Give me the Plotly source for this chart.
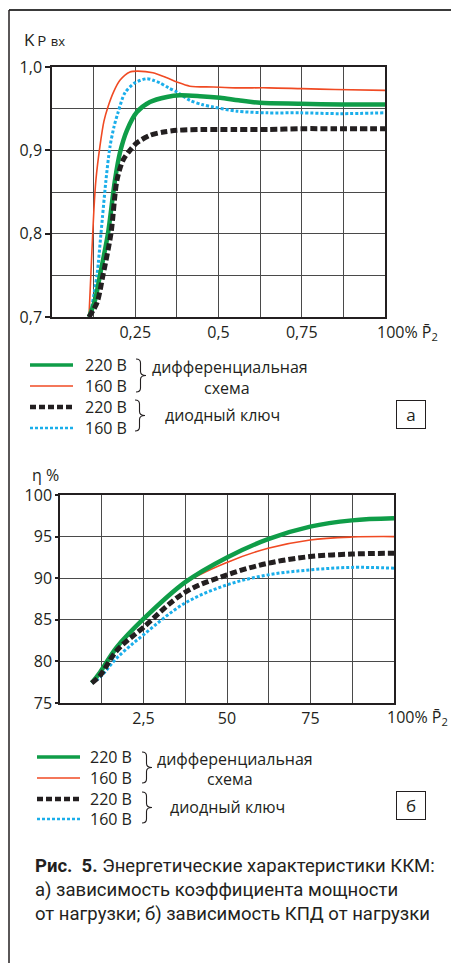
import plotly.graph_objects as go

# figure size chosen so that the page (with its default 8px body margin) fits the 459x971 window exactly
W, H = 451, 955
OFF = 8

# ---------------- data: chart a) power factor vs load ----------------
kp_diff220_x = [0.111, 0.129, 0.144, 0.168, 0.189, 0.204, 0.225, 0.255, 0.294, 0.345, 0.384, 0.444, 0.505, 0.56, 0.625, 0.745, 0.87, 1.0]
kp_diff220_y = [0.700, 0.720, 0.750, 0.800, 0.864, 0.897, 0.924, 0.946, 0.958, 0.964, 0.966, 0.965, 0.963, 0.960, 0.957, 0.956, 0.955, 0.955]

kp_diff160_x = [0.111, 0.120, 0.126, 0.132, 0.144, 0.156, 0.168, 0.186, 0.204, 0.234, 0.258, 0.303, 0.345, 0.375, 0.414, 0.484, 0.55, 0.65, 0.75, 0.85, 1.0]
kp_diff160_y = [0.700, 0.780, 0.830, 0.865, 0.905, 0.935, 0.952, 0.971, 0.984, 0.994, 0.995, 0.993, 0.987, 0.982, 0.977, 0.976, 0.975, 0.975, 0.974, 0.973, 0.972]

kp_diode220_x = [0.111, 0.135, 0.153, 0.177, 0.195, 0.213, 0.234, 0.255, 0.294, 0.335, 0.375, 0.45, 0.55, 0.65, 0.75, 0.85, 1.0]
kp_diode220_y = [0.700, 0.717, 0.750, 0.800, 0.864, 0.888, 0.900, 0.909, 0.918, 0.922, 0.924, 0.925, 0.925, 0.925, 0.926, 0.926, 0.926]

kp_diode160_x = [0.114, 0.135, 0.147, 0.162, 0.174, 0.186, 0.198, 0.219, 0.249, 0.285, 0.305, 0.324, 0.35, 0.375, 0.414, 0.45, 0.484, 0.555, 0.645, 0.745, 0.865, 1.0]
kp_diode160_y = [0.700, 0.750, 0.800, 0.864, 0.904, 0.928, 0.945, 0.969, 0.981, 0.986, 0.984, 0.981, 0.975, 0.970, 0.960, 0.955, 0.952, 0.947, 0.945, 0.945, 0.944, 0.945]

kp_xtickvals = [0.25, 0.5, 0.75]
kp_xticktext = ["0,25", "0,5", "0,75"]
kp_ytickvals = [0.7, 0.8, 0.9, 1.0]
kp_yticktext = ["0,7", "0,8", "0,9", "1,0"]

# ---------------- data: chart б) efficiency vs load ----------------
eta_diff220_x = [9.5, 12, 17, 25, 37.4, 50, 62.3, 74.9, 87.4, 100]
eta_diff220_y = [77.4, 78.7, 81.7, 85.1, 89.5, 92.5, 94.7, 96.2, 96.95, 97.2]

eta_diff160_x = [9.5, 12, 17, 25, 37.4, 50, 62.3, 74.9, 87.4, 100]
eta_diff160_y = [77.4, 78.6, 81.6, 85.0, 89.4, 91.9, 93.6, 94.6, 94.95, 95.0]

eta_diode220_x = [9.5, 12, 17, 25, 37.4, 50, 62.3, 74.9, 87.4, 100]
eta_diode220_y = [77.4, 78.3, 81.3, 84.1, 88.3, 90.4, 91.8, 92.6, 92.9, 93.0]

eta_diode160_x = [9.5, 12, 17, 25, 37.4, 50, 62.3, 74.9, 87.4, 100]
eta_diode160_y = [77.4, 78.1, 80.4, 83.2, 87.0, 89.2, 90.4, 91.0, 91.3, 91.2]

eta_xtickvals = [25, 50, 75]
eta_xticktext = ["2,5", "50", "75"]
eta_ytickvals = [75, 80, 85, 90, 95, 100]
eta_yticktext = ["75", "80", "85", "90", "95", "100"]

series_names = ["220 В", "160 В", "220 В", "160 В"]
group_labels = ["дифференциальная", "схема", "диодный ключ"]

# ---------------- styles ----------------
GREEN = "#0f9d48"
RED = "#f04a23"
BLACK = "#231f20"
BLUE = "#1aaeea"
TXT = "#231f20"
GRID = "#4a4a4a"
FONT = "Open Sans, Noto Sans, sans-serif"

styles = [
    dict(color=GREEN, width=4.5),
    dict(color=RED, width=1.6),
    dict(color=BLACK, width=5, dash="7px,3px"),
    dict(color=BLUE, width=3, dash="3px,2px"),
]


def px(x, y):
    """page pixel -> paper fraction"""
    return (x - OFF) / W, 1 - (y - OFF) / H


def dom_x(a, b):
    return [px(a, 0)[0], px(b, 0)[0]]


def dom_y(top, bottom):
    return [px(0, bottom)[1], px(0, top)[1]]


fig = go.Figure()

top_sets = [(kp_diff220_x, kp_diff220_y), (kp_diff160_x, kp_diff160_y),
            (kp_diode220_x, kp_diode220_y), (kp_diode160_x, kp_diode160_y)]
bot_sets = [(eta_diff220_x, eta_diff220_y), (eta_diff160_x, eta_diff160_y),
            (eta_diode220_x, eta_diode220_y), (eta_diode160_x, eta_diode160_y)]

order = [1, 3, 0, 2]
for i in order:
    x, y = top_sets[i]
    fig.add_trace(go.Scatter(x=x, y=y, mode="lines", xaxis="x", yaxis="y",
                             line=dict(shape="spline", smoothing=0.8, **styles[i]),
                             showlegend=False, hoverinfo="skip"))
for i in order:
    x, y = bot_sets[i]
    fig.add_trace(go.Scatter(x=x, y=y, mode="lines", xaxis="x2", yaxis="y2",
                             line=dict(shape="spline", smoothing=1.0, **styles[i]),
                             showlegend=False, hoverinfo="skip"))

axis_common = dict(showline=True, linecolor=BLACK, linewidth=1.5, mirror=True,
                   showgrid=True, gridcolor=GRID, gridwidth=1, zeroline=False, automargin=False,
                   tickfont=dict(family=FONT, size=16, color=TXT), fixedrange=True)

fig.update_layout(
    width=W, height=H,
    margin=dict(l=0, r=0, t=0, b=0),
    paper_bgcolor="white", plot_bgcolor="white",
    font=dict(family=FONT, color=TXT),
    xaxis=dict(domain=dom_x(52, 385), range=[0, 1], anchor="y",
               tickmode="array", tickvals=kp_xtickvals, ticktext=kp_xticktext, ticks="",
               minor=dict(tick0=0, dtick=0.125, showgrid=True, gridcolor=GRID, gridwidth=1),
               **axis_common),
    yaxis=dict(domain=dom_y(67, 317), range=[0.7, 1.0], anchor="x",
               tickmode="array", tickvals=kp_ytickvals, ticktext=kp_yticktext,
               ticks="outside", ticklen=5, tickwidth=1.5, tickcolor=BLACK,
               minor=dict(tick0=0.7, dtick=0.05, showgrid=True, gridcolor=GRID, gridwidth=1),
               **axis_common),
    xaxis2=dict(domain=dom_x(60, 394), range=[0, 100], anchor="y2",
                tickmode="array", tickvals=eta_xtickvals, ticktext=eta_xticktext, ticks="",
                minor=dict(tick0=0, dtick=12.5, showgrid=True, gridcolor=GRID, gridwidth=1),
                **axis_common),
    yaxis2=dict(domain=dom_y(495, 703), range=[75, 100], anchor="x2",
                tickmode="array", tickvals=eta_ytickvals, ticktext=eta_yticktext,
                ticks="outside", ticklen=3, tickwidth=1.5, tickcolor=BLACK,
                **axis_common),
)

shapes = []
ann = []

# outer frame (top + left lines)
x0, y0 = px(9, 10)
x1, _ = px(470, 10)
_, y1 = px(9, 990)
shapes.append(dict(type="line", xref="paper", yref="paper", x0=x0, y0=y0, x1=x1, y1=y0,
                   line=dict(color="#3a3a3a", width=2)))
shapes.append(dict(type="line", xref="paper", yref="paper", x0=x0, y0=y0, x1=x0, y1=y1,
                   line=dict(color=BLACK, width=1.5)))


def text(x, y, s, size=16, xanchor="left", yanchor="middle", **kw):
    X, Y = px(x, y)
    ann.append(dict(xref="paper", yref="paper", x=X, y=Y, text=s, showarrow=False,
                    xanchor=xanchor, yanchor=yanchor,
                    font=dict(family=FONT, size=size, color=TXT), **kw))


def brace(xl, yt, yb, w):
    xm = xl + 0.45 * w
    xr = xl + w
    ym = (yt + yb) / 2
    pts = [("M", [(xl, yt)]), ("Q", [(xm, yt), (xm, yt + 4)]), ("L", [(xm, ym - 4)]),
           ("Q", [(xm, ym), (xr, ym)]), ("Q", [(xm, ym), (xm, ym + 4)]),
           ("L", [(xm, yb - 4)]), ("Q", [(xm, yb), (xl, yb)])]
    path = ""
    for cmd, ps in pts:
        path += cmd + " " + " ".join("%.5f,%.5f" % px(a, b) for a, b in ps) + " "
    shapes.append(dict(type="path", xref="paper", yref="paper", path=path.strip(),
                       line=dict(color=TXT, width=1.1)))


def legend_block(xs, ys, xt, brace1, brace2, g1, g1b, g2, box, letter):
    leg_styles = [dict(color=GREEN, width=3.5), dict(color=RED, width=1.6),
                  dict(color=BLACK, width=4.5, dash="6px,3px"), dict(color=BLUE, width=2.5, dash="3px,2px")]
    for k in range(4):
        a = px(xs[0], ys[k])
        b = px(xs[1], ys[k])
        shapes.append(dict(type="line", xref="paper", yref="paper", x0=a[0], y0=a[1], x1=b[0], y1=b[1],
                           line=leg_styles[k]))
        text(xt, ys[k], series_names[k])
    brace(*brace1)
    brace(*brace2)
    text(g1[0], g1[1], group_labels[0])
    text(g1b[0], g1b[1], group_labels[1])
    text(g2[0], g2[1], group_labels[2])
    X, Y = px(box[0], box[1])
    ann.append(dict(xref="paper", yref="paper", x=X, y=Y, text=letter, showarrow=False,
                    xanchor="center", yanchor="middle", width=28, height=27,
                    bordercolor=BLACK, borderwidth=1, borderpad=0,
                    font=dict(family=FONT, size=17, color=TXT)))


legend_block((30, 73), [365, 386, 407, 428], 83, (136, 359, 392, 10), (135, 400, 431, 10),
             (150, 367), (202, 388), (163, 415), (410.5, 414.5), "а")
legend_block((37, 80), [757, 778, 799, 819], 88, (142, 752, 783, 10), (142, 792, 823, 10),
             (155, 759), (205, 779), (168, 807), (410.5, 805.5), "б")

# axis titles
text(22, 40, "K\u2009<span style='font-size:15px'>P</span> <span style='font-size:13px'>вх</span>", size=17)
text(30, 475, "η %", size=16)

# far-end x labels
text(375, 332, "100% P\u0304<sub>2</sub>", size=16)
text(385, 717, "100% P\u0304<sub>2</sub>", size=16)

# caption
X, Y = px(33, 890)
ann.append(dict(xref="paper", yref="paper", x=X, y=Y, showarrow=False, xanchor="left", yanchor="middle",
                align="left",
                text="<b>Рис.  5.</b> Энергетические характеристики ККМ:<br>"
                     "а) зависимость коэффициента мощности<br>"
                     "от нагрузки; б) зависимость КПД от нагрузки",
                font=dict(family="Roboto, sans-serif", size=18.5, color=TXT)))

fig.update_layout(shapes=shapes, annotations=ann)
fig.write_html("out.html")
